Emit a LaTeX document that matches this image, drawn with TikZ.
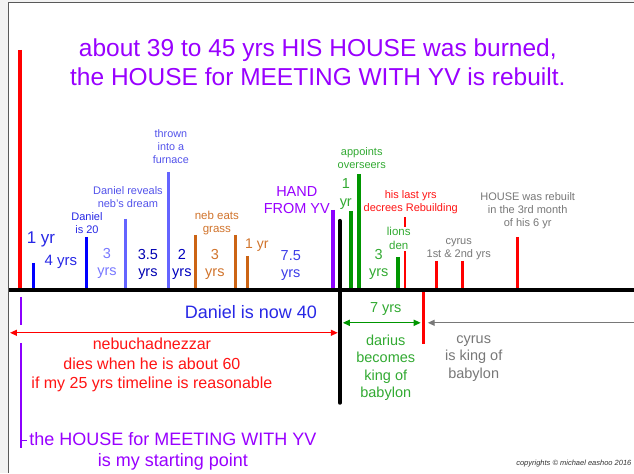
\documentclass[tikz,border=0pt]{standalone}
\usepackage{fontspec}
\setmainfont{Liberation Sans}
\usetikzlibrary{arrows.meta}
\definecolor{tpurple}{RGB}{153,0,255}
\definecolor{bpurple}{RGB}{140,0,255}
\definecolor{tred}{RGB}{255,20,20}
\definecolor{dblue}{RGB}{0,0,255}
\definecolor{lblue}{RGB}{100,100,255}
\definecolor{ltblue}{RGB}{120,120,255}
\definecolor{mblue}{RGB}{40,40,230}
\definecolor{torange}{RGB}{204,100,20}
\definecolor{tgreen}{RGB}{0,150,0}
\definecolor{lgreen}{RGB}{50,170,50}
\definecolor{tgray}{RGB}{120,120,120}
\newcommand{\fs}[2]{\fontsize{#1}{#2}\selectfont}
\tikzset{
  lbl/.style={inner sep=0pt, align=center},
  bar/.style={line width=3pt},
  arr/.style={line width=1.4pt, -{Triangle[length=7pt,width=6pt]}},
  darr/.style={line width=1.4pt, {Triangle[length=7pt,width=6pt]}-{Triangle[length=7pt,width=6pt]}}
}
\begin{document}
\begin{tikzpicture}[x=1pt,y=-1pt]
% frame
\fill[gray!10] (0,0) rectangle (634,473);
\fill[white] (9,3) rectangle (634,473);
\draw[gray!70!black, line width=0.8pt] (8.5,473) -- (8.5,2.5) -- (634,2.5);
\useasboundingbox (0,0) rectangle (634,473);

% title
\node[lbl, text=tpurple, font=\fs{24.5}{29}] (title) at (318,62.5)
  {about 39 to 45 yrs HIS HOUSE was burned,\\the HOUSE for MEETING WITH YV is rebuilt.};

% bars above axis
\draw[bar, red, line width=4pt] (20,50) -- (20,290);
\draw[bar, dblue] (34,263) -- (34,290);
\draw[bar, dblue] (87,237) -- (87,290);
\draw[bar, lblue] (126,219) -- (126,290);
\draw[bar, lblue] (169,172) -- (169,290);
\draw[bar, torange] (196,235) -- (196,290);
\draw[bar, torange] (236,235) -- (236,290);
\draw[bar, torange] (248,256) -- (248,290);
\draw[bar, bpurple, line width=4pt] (333,210) -- (333,290);
\draw[bar, tgreen, line width=3.5pt] (351,211) -- (351,290);
\draw[bar, tgreen, line width=3.5pt] (359,174) -- (359,290);
\draw[bar, tgreen, line width=3.5pt] (398,257) -- (398,290);
\draw[bar, red, line width=2.5pt] (405,217) -- (405,290);
\draw[bar, red, line width=2.5pt] (437,261) -- (437,290);
\draw[bar, red, line width=2.5pt] (463,261) -- (463,290);
\draw[bar, red, line width=2.5pt] (518,237) -- (518,290);

% main axis and black divider
\draw[black, line width=4pt] (9,290) -- (634,290);
\draw[black, line width=4pt, line cap=round] (340,221) -- (340,403);

% labels above axis
\node[lbl, text=mblue, font=\fs{17}{20}] (oneyr) at (41,240) {1 yr};
\node[lbl, text=mblue, font=\fs{15}{17}] (fouryrs) at (61,262) {4 yrs};
\node[lbl, text=mblue, font=\fs{11}{12.5}] (dan20) at (87,223) {Daniel\\is 20};
\node[lbl, text=ltblue, font=\fs{14.5}{17}] (threeyrsa) at (107,263.5) {3\\yrs};
\node[lbl, text=mblue!80, font=\fs{11}{12.5}] (danrev) at (128,197) {Daniel reveals\\neb's dream};
\node[lbl, text=blue!70!black, font=\fs{14.5}{17}] (threefive) at (148,265) {3.5\\yrs};
\node[lbl, text=mblue!80, font=\fs{10.8}{13}] (thrown) at (171,147) {thrown\\into a\\furnace};
\node[lbl, text=blue!75!black, font=\fs{14.5}{17}] (twoyrs) at (182,265) {2\\yrs};
\node[lbl, text=torange!90, font=\fs{11.5}{13}] (nebeats) at (217,223.5) {neb eats\\grass};
\node[lbl, text=torange!90, font=\fs{14.5}{17}] (threeyrsb) at (215,265) {3\\yrs};
\node[lbl, text=torange!90, font=\fs{14}{17}] (oneyrb) at (257,245) {1 yr};
\node[lbl, text=mblue!90, font=\fs{14.5}{17}] (sevenfive) at (291,265.5) {7.5\\yrs};
\node[lbl, text=tpurple, font=\fs{14.5}{17}] (hand) at (297,200.5) {HAND\\FROM YV};
\node[lbl, text=lgreen, font=\fs{14.5}{18}] (oneyrc) at (346,194) {1\\yr};
\node[lbl, text=lgreen, font=\fs{11}{13}] (appoints) at (362,158.5) {appoints\\overseers};
\node[lbl, text=lgreen, font=\fs{14.5}{17}] (threeyrsc) at (379,264.5) {3\\yrs};
\node[lbl, text=lgreen, font=\fs{11.5}{14}, fill=white, inner ysep=1pt] (lions) at (399,239) {lions\\den};
\node[lbl, text=tred, font=\fs{11}{13}] (lastyrs) at (411,202.5) {his last yrs\\decrees Rebuilding};
\node[lbl, text=tgray, font=\fs{11}{13}] (cyrusa) at (459,249.5) {cyrus\\1st \& 2nd yrs};
\node[lbl, text=tgray, font=\fs{11}{13}] (rebuilt) at (528,211) {HOUSE was rebuilt\\in the 3rd month\\of his 6 yr};

% below axis
\draw[bpurple, line width=2.5pt] (21,297) -- (21,325);
\draw[bpurple, line width=2.5pt] (21,343) -- (21,448);
\draw[bpurple, line width=1.5pt] (21,441) -- (27,441);
\draw[red, line width=2.5pt] (424,292) -- (424,344);

\coordinate (redL) at (10,333);
\coordinate (redR) at (338,333);
\coordinate (grnL) at (343,323);
\coordinate (grnR) at (421,323);
\coordinate (gryR) at (634,323);
\coordinate (gryL) at (428,323);
\draw[darr, red] (redL) -- (redR);
\draw[darr, tgreen] (grnL) -- (grnR);
\draw[arr, tgray] (gryR) -- (gryL);

\node[lbl, text=mblue, font=\fs{18}{21}] (dan40) at (251,312) {Daniel is now 40};
\node[lbl, text=tred, font=\fs{16}{19.5}] (neb) at (152,365.5)
  {nebuchadnezzar\\dies when he is about 60\\if my 25 yrs timeline is reasonable};
\node[lbl, text=tpurple, font=\fs{18}{21}] (start) at (173,451.5)
  {the HOUSE for MEETING WITH YV\\is my starting point};
\node[lbl, text=lgreen, font=\fs{14.5}{17}] (sevenyrs) at (386,309) {7 yrs};
\node[lbl, text=lgreen, font=\fs{14.5}{17.5}] (darius) at (386,368)
  {darius\\becomes\\king of\\babylon};
\node[lbl, text=tgray, font=\fs{14.5}{17.5}] (cyrusb) at (474,358.5)
  {cyrus\\is king of\\babylon};
\node[lbl, anchor=east, text=black!80, font=\fs{7.5}{9}\itshape] (copy) at (632,464)
  {copyrights \textcopyright{} michael eashoo 2016};
\end{tikzpicture}
\end{document}
